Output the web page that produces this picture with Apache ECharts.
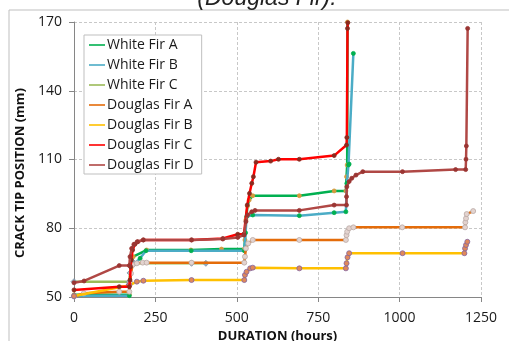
<!DOCTYPE html>
<html><head><meta charset="utf-8">
<script src="https://cdn.jsdelivr.net/npm/echarts@6/dist/echarts.min.js"></script>
<style>html,body{margin:0;padding:0;background:#fff}#c{width:509px;height:341px}</style>
</head><body><div id="c"></div>
<script>
const seriesNames = ['White Fir A','White Fir B','White Fir C','Douglas Fir A','Douglas Fir B','Douglas Fir C','Douglas Fir D'];
const yTicks = [50, 80, 110, 140, 170];
const xTicks = [0, 250, 500, 750, 1000, 1250];

const whiteFirA = [[0,51],[170,51],[175,64.7],[182,67.6],[223,70.5],[359,70.5],[453,70.9],[523,70.9],[525,74.9],[528,83.6],[533,89.7],[538,92.3],[549,94.2],[692,94.2],[799,96.3],[835,96.3],[837,102.5],[839,107.6],[840,170]];
const whiteFirB = [[0,50.6],[170,50.6],[175,64],[187,64.7],[203,66.9],[221,70.2],[360,70.2],[523,70.2],[527,78],[530,85],[549,85.8],[692,85.5],[799,86.8],[835,87.2],[838,99.6],[843,107.6],[845,108],[858,156.3]];
const whiteFirC = [[0,56.7],[170,56.7],[172,60.5],[176,63.5],[185,64.7],[361,64.7],[405,64.7]];
const douglasFirA = [[0,50.2],[30,51.6],[139,52.3],[170,52.3],[172,56],[175,60.3],[180,64],[193,64.7],[211,65],[223,65],[361,65],[523,65],[525,67.6],[528,71.2],[535,73.4],[549,74.9],[692,74.9],[835,74.9],[837,77],[839,78.5],[845,80],[858,80.4],[1008,80.4],[1201,80.4],[1202,82.6],[1204,84.3],[1206,86.2],[1226,87.5]];
const douglasFirB = [[0,50.4],[168,55],[170,55.2],[193,56.7],[213,57.1],[361,57.4],[523,57.4],[525,59.6],[530,61],[541,62.5],[549,62.8],[692,62.5],[835,62.5],[837,64.7],[840,67.3],[845,69.1],[1009,69.1],[1199,69.1],[1201,71.2],[1204,72.7],[1208,74.1]];
const douglasFirC = [[0,53.1],[139,54.5],[170,54.5],[172,57.4],[174,63.2],[176,66.1],[180,70.5],[187,73],[196,74.1],[213,74.9],[361,74.9],[457,75.5],[503,77.4],[522,77.5],[532,90.1],[539,95.2],[546,99.6],[551,102.5],[559,108.8],[604,109.3],[628,110.1],[692,110.1],[799,111.7],[837,116.3],[838,119.6],[840,167.2],[841,169.7]];
const douglasFirD = [[0,56.2],[31,57],[139,63.7],[170,63.7],[172,67.6],[177,71.2],[184,73],[194,74.1],[213,74.9],[361,74.9],[457,75.3],[503,76],[522,77],[528,82.9],[533,85.8],[546,87.2],[556,87.8],[692,87.8],[799,90.1],[837,90.1],[837,93.8],[838,98.1],[845,100.4],[853,101.8],[866,103.2],[887,104.7],[1009,104.7],[1172,105.6],[1203,105.6],[1204,110.1],[1205,115.9],[1209,167.2]];

const allData = [whiteFirA, whiteFirB, whiteFirC, douglasFirA, douglasFirB, douglasFirC, douglasFirD];
const lineColors = ['#00B050','#4BACC6','#9BBB59','#E46C0A','#FFC000','#FF0000','#B04845'];
const markColors = ['#D69A3C','#00B050','#8EA9C1','#E3D3CF','#E0885A','#8B2A1E','#9A3532'];
const markBorders = ['#D69A3C','#00B050','#7F95A8','#B9A9A6','#8064A2','#8B2A1E','#9A3532'];
const symbols = ['circle','circle','diamond','circle','circle','circle','circle'];
const symSizes = [4,4,6,5,5,4,4];

const chart = echarts.init(document.getElementById('c'));
const font = 'Open Sans';
chart.setOption({
  animation:false,
  textStyle:{fontFamily:font},
  graphic:[
    {type:'rect', shape:{x:9,y:10,width:600,height:400}, style:{fill:'none',stroke:'#BFBFBF',lineWidth:1}, z:-10},
    {type:'text', x:267, y:10, style:{text:'(Douglas Fir).', font:'italic 23px "Liberation Sans"', fill:'#222', textAlign:'center', textVerticalAlign:'bottom'}},
    {type:'text', x:20, y:173, rotation:Math.PI/2, style:{text:'CRACK TIP POSITION (mm)', font:'bold 13px "Open Sans"', fill:'#111', textAlign:'center', textVerticalAlign:'middle'}}
  ],
  legend:{
    orient:'vertical', left:84, top:35,
    itemWidth:16, itemHeight:10, itemGap:6,
    padding:[3,8,2,5],
    backgroundColor:'#fff', borderColor:'#BFBFBF', borderWidth:1,
    textStyle:{fontFamily:font, fontSize:14, color:'#1a1a1a', padding:[0,0,0,-3]},
    data:seriesNames.map((n,i)=>({name:n, icon:'path://M0,4.2L16,4.2L16,5.8L0,5.8Z', itemStyle:{color:lineColors[i], borderWidth:0}}))
  },
  grid:{left:74, right:28, top:22, bottom:44, containLabel:false, outerBoundsMode:'none'},
  xAxis:{
    type:'value', min:xTicks[0], max:xTicks[xTicks.length-1], interval:250,
    name:'DURATION (hours)', nameLocation:'middle', nameGap:30,
    nameTextStyle:{fontFamily:font, fontWeight:'bold', fontSize:13, color:'#111'},
    axisLine:{show:true, lineStyle:{color:'#868686'}},
    axisTick:{show:true, length:5, lineStyle:{color:'#868686'}},
    axisLabel:{fontSize:14, color:'#1a1a1a', margin:14, formatter:v=>String(v)},
    splitLine:{show:true, lineStyle:{type:[3,2], color:'#C8C8C8'}}
  },
  yAxis:{
    type:'value', min:yTicks[0], max:yTicks[yTicks.length-1], interval:30,
    axisLine:{show:true, lineStyle:{color:'#868686'}},
    axisTick:{show:true, length:5, lineStyle:{color:'#868686'}},
    axisLabel:{fontSize:14, color:'#1a1a1a', margin:12},
    splitLine:{show:true, lineStyle:{type:[3,2], color:'#C8C8C8'}}
  },
  series: seriesNames.map((n,i)=>({
    name:n, type:'line', data:allData[i],
    symbol:symbols[i], symbolSize:symSizes[i], showAllSymbol:true,
    lineStyle:{color:lineColors[i], width:2.5},
    itemStyle:{color:markColors[i], borderColor:markBorders[i], borderWidth:0.8},
    z:2+i
  }))
});
</script></body></html>
